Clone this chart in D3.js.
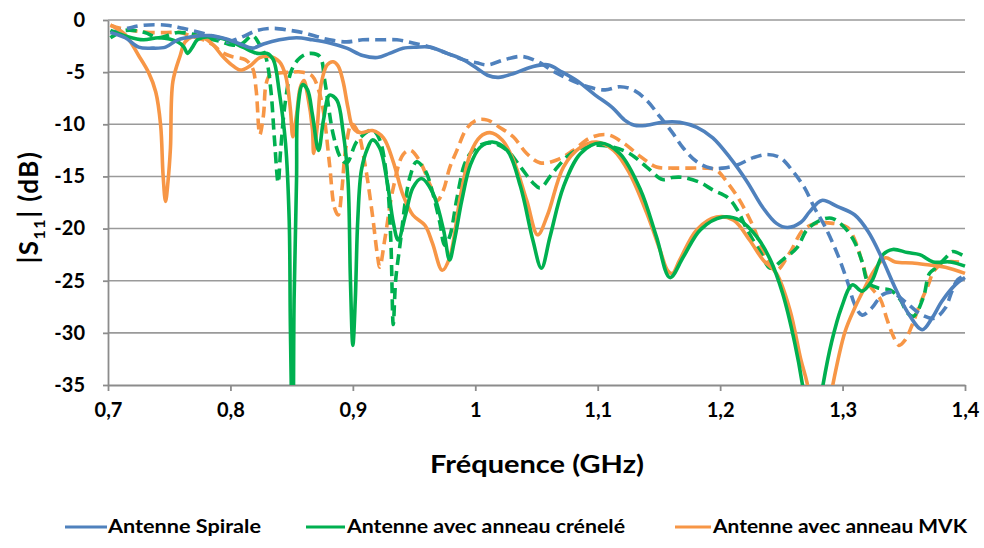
<!DOCTYPE html>
<html><head><meta charset="utf-8">
<script src="https://cdn.jsdelivr.net/npm/d3@7"></script>
<style>
body{margin:0;background:#fff}
svg{display:block}
text{font-family:Lato,"Open Sans",sans-serif;font-weight:bold;fill:#000}
</style>
</head><body>
<svg id="chart" width="984" height="548"></svg>
<script>
// ---- data: [frequency GHz, |S11| dB] ----
const xTicks = [0.7, 0.8, 0.9, 1.0, 1.1, 1.2, 1.3, 1.4];
const xTickLabels = ["0,7","0,8","0,9","1","1,1","1,2","1,3","1,4"];
const yTicks = [0, -5, -10, -15, -20, -25, -30, -35];
const seriesNames = ["Antenne Spirale", "Antenne avec anneau crénelé", "Antenne avec anneau MVK"];

const spiraleSolid = [[0.702,-1.2],[0.714,-1.7],[0.725,-2.6],[0.736,-2.7],[0.747,-2.6],[0.757,-1.9],[0.769,-1.6],[0.783,-1.5],[0.796,-1.8],[0.808,-2.3],[0.818,-2.7],[0.827,-2.3],[0.840,-1.9],[0.854,-1.7],[0.867,-1.9],[0.881,-2.2],[0.895,-2.7],[0.908,-3.4],[0.920,-3.6],[0.930,-3.2],[0.941,-2.7],[0.952,-2.6],[0.963,-2.6],[0.977,-3.2],[0.990,-3.8],[1.001,-4.6],[1.010,-5.3],[1.019,-5.5],[1.032,-5.1],[1.046,-4.5],[1.059,-4.3],[1.071,-5.0],[1.084,-5.9],[1.098,-7.2],[1.112,-8.4],[1.122,-9.6],[1.130,-10.1],[1.140,-10.1],[1.153,-9.8],[1.167,-9.8],[1.181,-10.3],[1.194,-11.3],[1.208,-13.2],[1.222,-15.5],[1.235,-18.0],[1.246,-19.5],[1.255,-19.9],[1.266,-19.4],[1.273,-18.4],[1.283,-17.3],[1.296,-17.9],[1.310,-18.7],[1.321,-20.3],[1.332,-22.8],[1.343,-25.7],[1.353,-28.0],[1.365,-29.7],[1.373,-28.6],[1.381,-27.0],[1.392,-25.4],[1.400,-24.7]];

const spiraleDash = [[0.702,-1.2],[0.716,-0.8],[0.729,-0.5],[0.748,-0.5],[0.761,-0.8],[0.775,-1.2],[0.789,-1.7],[0.797,-2.1],[0.808,-1.7],[0.822,-1.0],[0.835,-0.8],[0.849,-1.0],[0.859,-1.2],[0.871,-1.6],[0.881,-1.9],[0.895,-2.1],[0.908,-1.9],[0.922,-1.9],[0.936,-1.9],[0.949,-2.2],[0.963,-2.6],[0.977,-3.2],[0.990,-3.8],[1.001,-4.1],[1.010,-4.3],[1.024,-3.8],[1.038,-3.5],[1.051,-4.0],[1.065,-5.0],[1.079,-5.8],[1.092,-6.4],[1.106,-6.7],[1.118,-6.4],[1.129,-6.7],[1.140,-7.7],[1.151,-9.3],[1.161,-10.8],[1.170,-12.3],[1.181,-13.6],[1.192,-14.2],[1.202,-14.2],[1.214,-13.9],[1.227,-13.2],[1.238,-12.9],[1.249,-13.2],[1.260,-14.6],[1.269,-16.1],[1.277,-18.0],[1.286,-19.9],[1.296,-22.5],[1.304,-25.1],[1.310,-27.3],[1.316,-28.3],[1.324,-27.6],[1.332,-26.4],[1.340,-26.1],[1.351,-27.0],[1.365,-28.3],[1.375,-28.6],[1.384,-27.6],[1.389,-26.1],[1.394,-24.9],[1.400,-24.5]];

const creneleSolid = [[0.702,-1.0],[0.716,-1.6],[0.729,-1.9],[0.742,-1.7],[0.757,-2.1],[0.762,-2.6],[0.765,-3.2],[0.769,-2.6],[0.773,-1.9],[0.783,-1.6],[0.797,-1.9],[0.810,-2.6],[0.822,-3.2],[0.830,-3.2],[0.835,-3.8],[0.840,-7.0],[0.845,-11.8],[0.848,-19.2],[0.849,-29.7],[0.851,-42],[0.852,-26.8],[0.854,-15.3],[0.855,-8.6],[0.859,-6.2],[0.863,-6.7],[0.867,-9.1],[0.872,-12.5],[0.876,-9.6],[0.881,-7.2],[0.887,-7.7],[0.892,-10.7],[0.896,-15.3],[0.898,-24.9],[0.900,-31.2],[0.902,-26.8],[0.904,-19.2],[0.907,-14.4],[0.912,-12.3],[0.916,-11.5],[0.922,-12.3],[0.928,-15.5],[0.933,-19.4],[0.937,-21.1],[0.943,-18.7],[0.949,-16.1],[0.956,-15.2],[0.965,-16.5],[0.974,-20.1],[0.979,-23.0],[0.983,-21.1],[0.989,-17.3],[0.996,-13.9],[1.004,-12.2],[1.014,-11.7],[1.026,-12.5],[1.037,-16.0],[1.047,-21.1],[1.054,-23.8],[1.061,-20.8],[1.072,-16.0],[1.086,-12.8],[1.102,-11.8],[1.118,-12.8],[1.135,-16.3],[1.148,-20.8],[1.159,-24.7],[1.170,-22.7],[1.184,-20.1],[1.202,-18.9],[1.216,-19.2],[1.230,-20.8],[1.241,-23.0],[1.251,-26.2],[1.261,-31.0],[1.267,-34.8],[1.275,-42],[1.284,-35.0],[1.291,-30.9],[1.299,-27.6],[1.308,-25.4],[1.316,-26.0],[1.324,-25.0],[1.333,-22.5],[1.341,-22.0],[1.353,-22.3],[1.363,-22.5],[1.374,-23.2],[1.388,-23.2],[1.400,-23.6]];

const creneleDash = [[0.702,-1.7],[0.714,-1.0],[0.730,-1.2],[0.741,-1.7],[0.757,-1.2],[0.771,-1.4],[0.779,-1.7],[0.793,-2.1],[0.801,-2.4],[0.809,-2.3],[0.818,-1.5],[0.824,-2.4],[0.829,-3.6],[0.833,-6.7],[0.836,-11.5],[0.839,-15.6],[0.841,-12.5],[0.845,-7.7],[0.850,-4.8],[0.857,-3.6],[0.865,-3.2],[0.873,-3.5],[0.877,-5.8],[0.884,-11.0],[0.890,-13.2],[0.895,-13.7],[0.903,-11.7],[0.912,-10.7],[0.916,-10.5],[0.922,-11.5],[0.928,-15.5],[0.931,-21.1],[0.933,-29.2],[0.935,-24.9],[0.939,-21.1],[0.943,-17.3],[0.947,-14.9],[0.952,-13.6],[0.959,-14.4],[0.965,-16.5],[0.971,-19.4],[0.975,-21.6],[0.979,-20.8],[0.985,-17.1],[0.991,-13.9],[0.996,-12.8],[1.004,-12.0],[1.014,-11.8],[1.026,-12.5],[1.037,-14.1],[1.047,-15.6],[1.053,-16.1],[1.063,-14.7],[1.075,-13.1],[1.086,-12.3],[1.099,-12.0],[1.113,-12.2],[1.126,-12.8],[1.140,-14.1],[1.153,-15.3],[1.161,-15.1],[1.170,-15.1],[1.184,-15.6],[1.194,-16.3],[1.206,-17.0],[1.214,-18.2],[1.222,-20.1],[1.233,-22.3],[1.241,-23.8],[1.251,-23.0],[1.263,-21.8],[1.271,-20.1],[1.282,-19.2],[1.291,-19.0],[1.300,-19.7],[1.309,-21.1],[1.316,-23.2],[1.321,-25.2],[1.329,-25.7],[1.339,-25.9],[1.347,-26.8],[1.353,-28.1],[1.358,-28.4],[1.366,-26.6],[1.371,-24.3],[1.377,-23.7],[1.385,-22.7],[1.390,-22.2],[1.400,-22.7]];

const mvkSolid = [[0.702,-0.5],[0.714,-1.4],[0.725,-3.4],[0.733,-5.0],[0.739,-6.9],[0.743,-10.1],[0.745,-14.9],[0.747,-17.4],[0.749,-15.5],[0.751,-12.3],[0.753,-5.9],[0.759,-3.4],[0.763,-2.1],[0.769,-1.6],[0.778,-1.7],[0.786,-2.4],[0.793,-3.4],[0.801,-4.3],[0.808,-4.8],[0.816,-4.4],[0.824,-3.6],[0.832,-3.5],[0.840,-4.0],[0.845,-5.3],[0.849,-8.6],[0.851,-11.2],[0.854,-9.1],[0.857,-6.5],[0.860,-5.8],[0.863,-7.2],[0.867,-10.5],[0.868,-12.8],[0.871,-10.1],[0.874,-6.2],[0.879,-4.3],[0.884,-4.0],[0.888,-4.4],[0.892,-5.9],[0.896,-8.4],[0.900,-10.3],[0.906,-10.8],[0.916,-10.6],[0.925,-11.3],[0.933,-13.6],[0.941,-16.8],[0.949,-18.7],[0.959,-19.7],[0.965,-21.4],[0.973,-24.0],[0.979,-22.8],[0.988,-16.8],[0.996,-12.8],[1.004,-11.2],[1.012,-10.8],[1.022,-11.5],[1.031,-13.4],[1.042,-17.3],[1.051,-20.6],[1.059,-18.7],[1.072,-14.1],[1.086,-12.2],[1.099,-11.7],[1.113,-12.5],[1.126,-14.7],[1.140,-18.5],[1.151,-22.1],[1.157,-24.0],[1.161,-24.3],[1.167,-23.0],[1.181,-20.1],[1.197,-18.9],[1.211,-19.2],[1.224,-21.1],[1.235,-23.0],[1.246,-24.3],[1.257,-27.8],[1.266,-32.6],[1.271,-34.8],[1.282,-42],[1.292,-35.0],[1.302,-29.9],[1.310,-27.6],[1.318,-25.7],[1.326,-24.0],[1.335,-22.8],[1.343,-23.2],[1.357,-23.3],[1.371,-23.5],[1.384,-23.7],[1.400,-24.3]];

const mvkDash = [[0.702,-0.5],[0.710,-0.8],[0.720,-1.0],[0.734,-1.2],[0.748,-1.2],[0.759,-1.2],[0.769,-1.6],[0.778,-1.9],[0.786,-2.4],[0.793,-3.1],[0.801,-3.5],[0.812,-3.8],[0.818,-4.6],[0.821,-6.7],[0.824,-11.0],[0.827,-9.1],[0.829,-6.2],[0.832,-5.3],[0.838,-5.1],[0.849,-5.0],[0.859,-5.0],[0.867,-5.4],[0.872,-6.7],[0.876,-8.8],[0.881,-13.9],[0.885,-18.0],[0.888,-18.7],[0.891,-16.3],[0.894,-12.5],[0.899,-10.0],[0.904,-10.7],[0.910,-13.9],[0.916,-18.7],[0.920,-22.5],[0.922,-23.7],[0.926,-21.1],[0.933,-16.1],[0.941,-12.9],[0.947,-12.5],[0.955,-13.6],[0.963,-15.8],[0.969,-17.3],[0.974,-16.3],[0.979,-14.2],[0.985,-12.5],[0.993,-10.4],[1.001,-9.6],[1.010,-9.6],[1.020,-10.3],[1.031,-11.2],[1.042,-12.8],[1.053,-13.7],[1.067,-13.4],[1.080,-12.5],[1.094,-11.3],[1.108,-11.0],[1.121,-11.8],[1.135,-13.1],[1.148,-14.1],[1.161,-14.2],[1.175,-14.2],[1.188,-14.2],[1.197,-14.4],[1.206,-15.6],[1.216,-17.3],[1.227,-19.8],[1.238,-23.0],[1.246,-24.0],[1.257,-22.3],[1.268,-20.1],[1.279,-19.5],[1.292,-19.5],[1.304,-19.9],[1.310,-21.1],[1.316,-23.2],[1.322,-25.4],[1.331,-26.8],[1.336,-28.6],[1.341,-30.2],[1.346,-31.2],[1.351,-30.7],[1.357,-29.2],[1.363,-27.3],[1.370,-25.4],[1.375,-24.0],[1.385,-23.2],[1.400,-23.3]];

const colors = ["#4F81BD", "#00B050", "#F79646"];

// ---- drawing ----
const svg = d3.select("#chart");
const x = d3.scaleLinear().domain([0.7, 1.4]).range([108, 965]);
const y = d3.scaleLinear().domain([-35, 0]).range([385, 20]);

// gridlines
svg.append("g").selectAll("line").data(yTicks.filter(v => v > -35)).join("line")
  .attr("x1", x(0.7)).attr("x2", x(1.4))
  .attr("y1", d => y(d)).attr("y2", d => y(d))
  .attr("stroke", "#9a9a9a").attr("stroke-width", 1.6);

// axes
const yAxis = d3.axisLeft(y).tickValues(yTicks).tickFormat(d => String(d))
  .tickSizeInner(5).tickSizeOuter(0).tickPadding(18);
const gy = svg.append("g").attr("transform", `translate(${x(0.7)},0)`).call(yAxis);
const xAxis = d3.axisBottom(x).tickValues(xTicks).tickFormat((d, i) => xTickLabels[i])
  .tickSizeInner(6).tickSizeOuter(0).tickPadding(12);
const gx = svg.append("g").attr("transform", `translate(0,${y(-35)})`).call(xAxis);
[gx, gy].forEach(g => {
  g.select(".domain").attr("stroke", "#8c8c8c").attr("stroke-width", 1.8);
  g.selectAll(".tick line").attr("stroke", "#8c8c8c").attr("stroke-width", 1.8);
  g.selectAll(".tick text").attr("font-size", 20).attr("font-family", "Lato, sans-serif")
    .attr("font-weight", "bold").attr("fill", "#000");
});

// clip
svg.append("clipPath").attr("id", "plotclip").append("rect")
  .attr("x", x(0.7) - 2).attr("y", y(0) - 10)
  .attr("width", x(1.4) - x(0.7) + 4).attr("height", y(-35) - y(0) + 10);

const line = d3.line().x(d => x(d[0])).y(d => y(d[1])).curve(d3.curveCatmullRom.alpha(0.5));
const plot = svg.append("g").attr("clip-path", "url(#plotclip)");
const layers = [
  {data: mvkDash, c: colors[2], dash: true},
  {data: creneleDash, c: colors[1], dash: true},
  {data: spiraleDash, c: colors[0], dash: true},
  {data: mvkSolid, c: colors[2], dash: false},
  {data: creneleSolid, c: colors[1], dash: false},
  {data: spiraleSolid, c: colors[0], dash: false}
];
plot.selectAll("path").data(layers).join("path")
  .attr("d", d => line(d.data))
  .attr("fill", "none")
  .attr("stroke", d => d.c)
  .attr("stroke-width", 3.6)
  .attr("stroke-linejoin", "round")
  .attr("stroke-dasharray", d => d.dash ? "11,6" : null);

// axis titles
const yt = svg.append("text").attr("transform", "translate(38,207) rotate(-90)")
  .attr("text-anchor", "middle").attr("font-size", 26).attr("letter-spacing", 1.5);
yt.append("tspan").text("|S");
yt.append("tspan").attr("font-size", 16).attr("dy", 7).text("11");
yt.append("tspan").attr("dy", -7).text("| (dB)");

svg.append("text").attr("x", 537).attr("y", 473).attr("text-anchor", "middle")
  .attr("font-size", 24).attr("textLength", 214).attr("lengthAdjust", "spacingAndGlyphs")
  .text("Fréquence (GHz)");

// legend
const legendPos = [
  {lx: 65, lw: 42, tx: 108, tw: 153},
  {lx: 306, lw: 39, tx: 347, tw: 278},
  {lx: 675, lw: 36, tx: 713, tw: 254}
];
const lg = svg.append("g").selectAll("g").data(seriesNames).join("g");
lg.append("line")
  .attr("x1", (d, i) => legendPos[i].lx).attr("x2", (d, i) => legendPos[i].lx + legendPos[i].lw)
  .attr("y1", 527).attr("y2", 527)
  .attr("stroke", (d, i) => colors[i]).attr("stroke-width", 3);
lg.append("text")
  .attr("x", (d, i) => legendPos[i].tx).attr("y", 533)
  .attr("font-size", 18)
  .attr("textLength", (d, i) => legendPos[i].tw).attr("lengthAdjust", "spacingAndGlyphs")
  .text(d => d);
</script>
</body></html>
